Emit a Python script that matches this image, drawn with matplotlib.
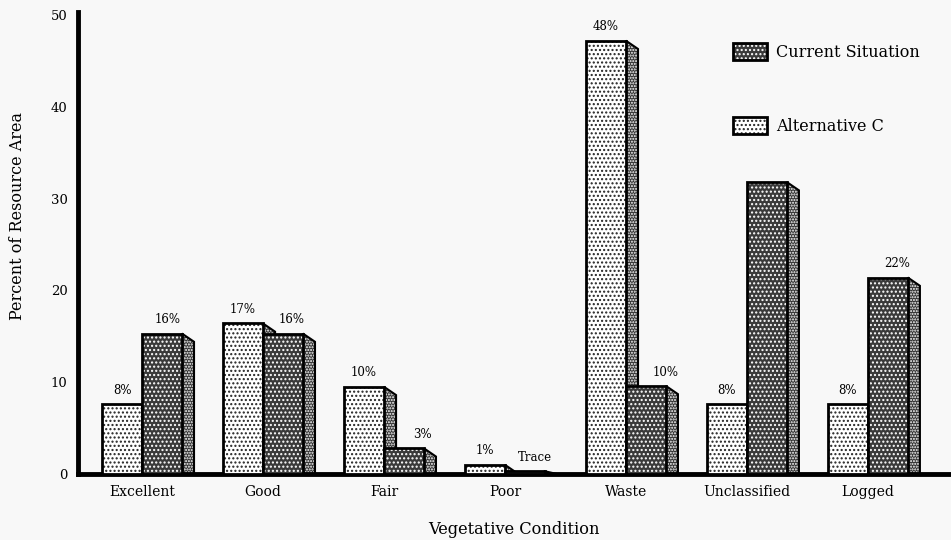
import numpy as np
import matplotlib.pyplot as plt
from matplotlib.patches import Polygon, Patch

categories = ['Excellent', 'Good', 'Fair', 'Poor', 'Waste', 'Unclassified', 'Logged']
alt_c = [7.6, 16.4, 9.5, 1.0, 47.2, 7.6, 7.6]
current = [15.3, 15.3, 2.8, 0.3, 9.6, 31.8, 21.4]
alt_labels = ['8%', '17%', '10%', '1%', '48%', '8%', '8%']
cur_labels = ['16%', '16%', '3%', 'Trace', '10%', '', '22%']
# small horizontal nudges of the current-situation labels (axis units)
cur_label_dx = [0.0, 0.02, 0.1, 0.03, 0.11, 0.0, 0.03]

plt.rcParams['font.family'] = 'DejaVu Serif'
bg = '#f8f8f8'
dark = '#3a3a3a'
side_col = '#333333'

fig = plt.figure(figsize=(9.51, 5.4), dpi=100, facecolor=bg)
ax = fig.add_axes([78 / 951, 66 / 540, 873 / 951, 459 / 540])
ax.set_facecolor(bg)

x = np.arange(len(categories))
w = 0.33
dx, dy = 0.1, 0.9  # 3d side depth


def bar3d(xl, h, face, hcol):
    pts = [(xl + w, h), (xl + w + dx, max(h - dy, 0)), (xl + w + dx, 0), (xl + w, 0)]
    ax.add_patch(Polygon(pts, closed=True, facecolor=side_col, edgecolor='white',
                         hatch='......', linewidth=0, zorder=2))
    ax.add_patch(Polygon(pts, closed=True, fill=False, edgecolor='black',
                         linewidth=1.5, zorder=2))
    ax.bar(xl, h, w, align='edge', color=face, edgecolor=hcol, hatch='....',
           linewidth=0, zorder=3)
    ax.bar(xl, h, w, align='edge', fill=False, edgecolor='black',
           linewidth=2, zorder=3)


for i in range(len(categories)):
    bar3d(x[i] - w, alt_c[i], 'white', '#222222')
    bar3d(x[i], current[i], dark, 'white')
    ax.text(x[i] - w / 2, alt_c[i] + 0.8, alt_labels[i], ha='center',
            va='bottom', fontsize=8.5, zorder=6)
    if cur_labels[i]:
        ax.text(x[i] + w / 2 + dx / 2 + cur_label_dx[i], current[i] + 0.8,
                cur_labels[i], ha='center', va='bottom', fontsize=8.5, zorder=6)

ax.set_xlim(-0.529, 6.687)
ax.set_ylim(0, 50)
ax.set_yticks([0, 10, 20, 30, 40, 50])
ax.set_xticks(x)
ax.set_xticklabels(categories, fontsize=10)
ax.tick_params(axis='both', length=0)
ax.tick_params(axis='x', pad=8, labelsize=10)
ax.tick_params(axis='y', pad=7.5, labelsize=9.5)

for s in ['top', 'right']:
    ax.spines[s].set_visible(False)
ax.spines['left'].set_linewidth(3.5)
ax.spines['bottom'].set_linewidth(3.5)
ax.spines['left'].set_bounds(0, 50.3)

fig.text(18 / 951, 1 - 216 / 540, 'Percent of Resource Area', rotation=90,
         ha='center', va='center', fontsize=11.5)
fig.text(514 / 951, 1 - 529 / 540, 'Vegetative Condition', ha='center',
         va='center', fontsize=11.7)

handles = [
    (Patch(facecolor=dark, edgecolor='white', hatch='....', linewidth=0),
     Patch(fill=False, edgecolor='black', linewidth=2)),
    (Patch(facecolor='white', edgecolor='#222222', hatch='....', linewidth=0),
     Patch(fill=False, edgecolor='black', linewidth=2)),
]
leg = ax.legend(handles, ['Current Situation', 'Alternative C'],
                loc='upper left', bbox_to_anchor=(733 / 951, 1 - 43 / 540),
                bbox_transform=fig.transFigure, frameon=False, fontsize=11.5,
                labelspacing=3.5, handlelength=2.1, handleheight=1.25,
                handletextpad=0.6, borderpad=0, borderaxespad=0)

fig.savefig('out.png', dpi=100, facecolor=bg)
